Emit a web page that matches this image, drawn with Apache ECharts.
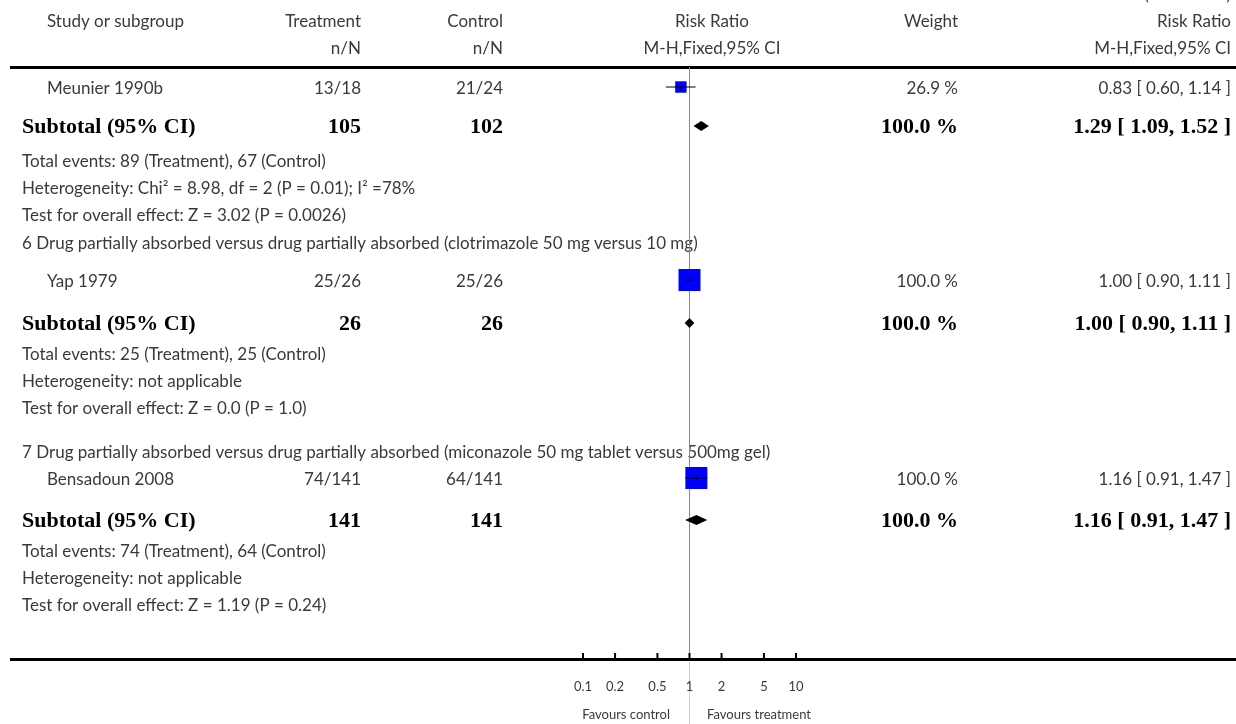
<!DOCTYPE html>
<html>
<head>
<meta charset="utf-8">
<style>
  html, body { margin: 0; padding: 0; background: #fff; }
  #chart { width: 1236px; height: 724px; }
</style>
<script src="https://cdn.jsdelivr.net/npm/echarts@6/dist/echarts.min.js"></script>
</head>
<body>
<div id="chart"></div>
<script>
// ---- Study-level data ----
const studyNames   = ['Meunier 1990b', 'Yap 1979', 'Bensadoun 2008'];
const treatEvents  = [13, 25, 74];
const treatTotal   = [18, 26, 141];
const ctrlEvents   = [21, 25, 64];
const ctrlTotal    = [24, 26, 141];
const studyRR      = [0.83, 1.00, 1.16];
const studyLow     = [0.60, 0.90, 0.91];
const studyHigh    = [1.14, 1.11, 1.47];
const studyWeight  = [26.9, 100.0, 100.0];

// ---- Subgroup pooled results ----
const subgroupTitles = [
  null,
  '6 Drug partially absorbed versus drug partially absorbed (clotrimazole 50 mg versus 10 mg)',
  '7 Drug partially absorbed versus drug partially absorbed (miconazole 50 mg tablet versus 500mg gel)'
];
const subTreatN    = [105, 26, 141];
const subCtrlN     = [102, 26, 141];
const subRR        = [1.29, 1.00, 1.16];
const subLow       = [1.09, 0.90, 0.91];
const subHigh      = [1.52, 1.11, 1.47];
const subWeight    = [100.0, 100.0, 100.0];
const subEventsT   = [89, 25, 74];
const subEventsC   = [67, 25, 64];
const heterogeneity = ['Chi² = 8.98, df = 2 (P = 0.01); I² =78%', 'not applicable', 'not applicable'];
const overallEffect = ['Z = 3.02 (P = 0.0026)', 'Z = 0.0 (P = 1.0)', 'Z = 1.19 (P = 0.24)'];

// ---- Axis ----
const tickValues = [0.1, 0.2, 0.5, 1, 2, 5, 10];
const tickLabels = ['0.1', '0.2', '0.5', '1', '2', '5', '10'];

// ---- Layout: vertical gap (px) before each row, top to bottom ----
const rowGaps = [20, 39, 34, 27, 27, 28, 38, 43, 30, 27, 27, 44, 27, 42, 30, 27, 27];

const SANS = 'Lato, "Open Sans", sans-serif';
const SERIF = '"Liberation Serif", "DejaVu Serif", serif';
const GREY_TEXT = '#3a3a3a';
const BODY_FONT = '17px ' + SANS;
const BOLD_FONT = 'bold 22px ' + SERIF;
const SMALL_FONT = '13px ' + SANS;
const TEXT_NUDGE = 1.5;   // optical centring of text on row lines

// Build the table rows in display order
const rows = [];
for (let g = 0; g < studyNames.length; g++) {
  if (subgroupTitles[g]) rows.push({ type: 'title', text: subgroupTitles[g] });
  rows.push({ type: 'study', i: g });
  rows.push({ type: 'subtotal', i: g });
  rows.push({ type: 'note', text: 'Total events: ' + subEventsT[g] + ' (Treatment), ' + subEventsC[g] + ' (Control)' });
  rows.push({ type: 'note', text: 'Heterogeneity: ' + heterogeneity[g] });
  rows.push({ type: 'note', text: 'Test for overall effect: ' + overallEffect[g] });
}
let acc = 0;
rows.forEach((r, k) => { acc += rowGaps[k]; r.y = acc; });
const Y_MAX = 592;

const fmtCI = (m, l, h) => m.toFixed(2) + ' [ ' + l.toFixed(2) + ', ' + h.toFixed(2) + ' ]';

// Column anchors (px)
const COL = { name: 47, left: 22, treat: 361, ctrl: 503, weight: 958, ci: 1231 };

function txt(x, y, s, align, bold) {
  return {
    type: 'text',
    style: {
      x: x, y: y + TEXT_NUDGE, text: s, align: align, verticalAlign: 'middle',
      font: bold ? BOLD_FONT : BODY_FONT,
      fill: bold ? '#000' : GREY_TEXT
    }
  };
}

function renderRow(params, api) {
  const r = rows[params.dataIndex];
  const y = api.coord([1, r.y])[1];
  const kids = [];
  if (r.type === 'title' || r.type === 'note') {
    kids.push(txt(COL.left, y, r.text, 'left', false));
  } else if (r.type === 'study') {
    const i = r.i;
    kids.push(txt(COL.name, y, studyNames[i], 'left', false));
    kids.push(txt(COL.treat, y, treatEvents[i] + '/' + treatTotal[i], 'right', false));
    kids.push(txt(COL.ctrl, y, ctrlEvents[i] + '/' + ctrlTotal[i], 'right', false));
    kids.push(txt(COL.weight, y, studyWeight[i].toFixed(1) + ' %', 'right', false));
    kids.push(txt(COL.ci, y, fmtCI(studyRR[i], studyLow[i], studyHigh[i]), 'right', false));
  } else if (r.type === 'subtotal') {
    const i = r.i;
    kids.push(txt(COL.left, y, 'Subtotal (95% CI)', 'left', true));
    kids.push(txt(COL.treat, y, String(subTreatN[i]), 'right', true));
    kids.push(txt(COL.ctrl, y, String(subCtrlN[i]), 'right', true));
    kids.push(txt(COL.weight, y, subWeight[i].toFixed(1) + ' %', 'right', true));
    kids.push(txt(COL.ci, y, fmtCI(subRR[i], subLow[i], subHigh[i]), 'right', true));
  }
  return { type: 'group', children: kids };
}

// Study squares (area proportional to weight) with CI whiskers
function renderStudy(params, api) {
  const rr = api.value(0), lo = api.value(1), hi = api.value(2), ry = api.value(3), w = api.value(4);
  const c = api.coord([rr, ry]);
  const pl = api.coord([lo, ry]);
  const ph = api.coord([hi, ry]);
  const s = 22 * Math.sqrt(w / 100);
  return {
    type: 'group',
    children: [
      { type: 'rect', shape: { x: c[0] - s / 2, y: c[1] - s / 2, width: s, height: s }, style: { fill: '#0000ff' } },
      { type: 'line', shape: { x1: pl[0], y1: c[1], x2: ph[0], y2: c[1] }, style: { stroke: '#000', lineWidth: 1 } },
      { type: 'line', shape: { x1: c[0], y1: c[1] - 2, x2: c[0], y2: c[1] + 2 }, style: { stroke: '#000', lineWidth: 1 } }
    ]
  };
}

// Pooled diamonds
function renderDiamond(params, api) {
  const rr = api.value(0), lo = api.value(1), hi = api.value(2), ry = api.value(3);
  const c = api.coord([rr, ry]);
  const pl = api.coord([lo, ry]);
  const ph = api.coord([hi, ry]);
  const h = 5;
  return {
    type: 'polygon',
    shape: { points: [[pl[0], c[1]], [c[0], c[1] - h], [ph[0], c[1]], [c[0], c[1] + h]] },
    style: { fill: '#000' }
  };
}

// Line of no effect, with faint extension through the axis labels
function renderNullLine(params, api) {
  const top = api.coord([1, 0]);
  const bot = api.coord([1, Y_MAX]);
  return {
    type: 'group',
    children: [
      { type: 'line', shape: { x1: top[0], y1: top[1], x2: bot[0], y2: bot[1] }, style: { stroke: '#8a8a8a', lineWidth: 1 } },
      { type: 'line', shape: { x1: bot[0], y1: bot[1] + 3, x2: bot[0], y2: bot[1] + 70 }, style: { stroke: '#d0d0d0', lineWidth: 1 } }
    ]
  };
}

// Tick marks and labels on the log axis
function renderTicks(params, api) {
  const v = api.value(0);
  const p = api.coord([v, Y_MAX]);
  return {
    type: 'group',
    children: [
      { type: 'line', shape: { x1: p[0], y1: p[1] - 6, x2: p[0], y2: p[1] }, style: { stroke: '#000', lineWidth: 2 } },
      { type: 'text', style: { x: p[0], y: p[1] + 28, text: tickLabels[params.dataIndex], align: 'center', verticalAlign: 'middle', font: SMALL_FONT, fill: GREY_TEXT } }
    ]
  };
}

const studyData = [];
const diamondData = [];
rows.forEach(r => {
  if (r.type === 'study') studyData.push([studyRR[r.i], studyLow[r.i], studyHigh[r.i], r.y, studyWeight[r.i]]);
  if (r.type === 'subtotal') diamondData.push([subRR[r.i], subLow[r.i], subHigh[r.i], r.y]);
});

const chart = echarts.init(document.getElementById('chart'), null, { renderer: 'canvas' });

function head(x, y, s, align) {
  return { type: 'text', style: { x: x, y: y + TEXT_NUDGE, text: s, textAlign: align, textVerticalAlign: 'middle', font: BODY_FONT, fill: GREY_TEXT } };
}

chart.setOption({
  animation: false,
  backgroundColor: '#fff',
  grid: { left: 583, right: 440, top: 67, bottom: 65 },
  xAxis: {
    type: 'log', logBase: 10, min: 0.1, max: 10,
    axisLine: { show: false }, axisTick: { show: false }, axisLabel: { show: false }, splitLine: { show: false }
  },
  yAxis: {
    type: 'value', inverse: true, min: 0, max: Y_MAX, show: false, splitLine: { show: false }
  },
  graphic: [
    head(47, 20, 'Study or subgroup', 'left'),
    head(361, 20, 'Treatment', 'right'),
    head(503, 20, 'Control', 'right'),
    head(712, 20, 'Risk Ratio', 'center'),
    head(958, 20, 'Weight', 'right'),
    head(1231, 20, 'Risk Ratio', 'right'),
    head(361, 47, 'n/N', 'right'),
    head(503, 47, 'n/N', 'right'),
    head(712, 47, 'M-H,Fixed,95% CI', 'center'),
    head(1231, 47, 'M-H,Fixed,95% CI', 'right'),
    { type: 'text', style: { x: 1231, y: 3, text: '(Continued)', textAlign: 'right', textVerticalAlign: 'bottom', font: BODY_FONT, fill: GREY_TEXT } },
    { type: 'rect', shape: { x: 10, y: 66, width: 1226, height: 3 }, style: { fill: '#000' } },
    { type: 'rect', shape: { x: 10, y: 658, width: 1226, height: 3 }, style: { fill: '#000' } },
    { type: 'text', style: { x: 670, y: 715, text: 'Favours control', textAlign: 'right', textVerticalAlign: 'middle', font: SMALL_FONT, fill: GREY_TEXT } },
    { type: 'text', style: { x: 707, y: 715, text: 'Favours treatment', textAlign: 'left', textVerticalAlign: 'middle', font: SMALL_FONT, fill: GREY_TEXT } }
  ],
  series: [
    { type: 'custom', name: 'table', renderItem: renderRow, data: rows.map(r => [1, r.y]), clip: false, z: 1, silent: true },
    { type: 'custom', name: 'null line', renderItem: renderNullLine, data: [[1, 0]], clip: false, z: 2, silent: true },
    { type: 'custom', name: 'ticks', renderItem: renderTicks, data: tickValues.map(v => [v, Y_MAX]), clip: false, z: 3, silent: true },
    { type: 'custom', name: 'studies', renderItem: renderStudy, data: studyData, clip: false, z: 4,
      encode: { x: [0, 1, 2], y: 3 } },
    { type: 'custom', name: 'subtotals', renderItem: renderDiamond, data: diamondData, clip: false, z: 4,
      encode: { x: [0, 1, 2], y: 3 } }
  ]
});
</script>
</body>
</html>
